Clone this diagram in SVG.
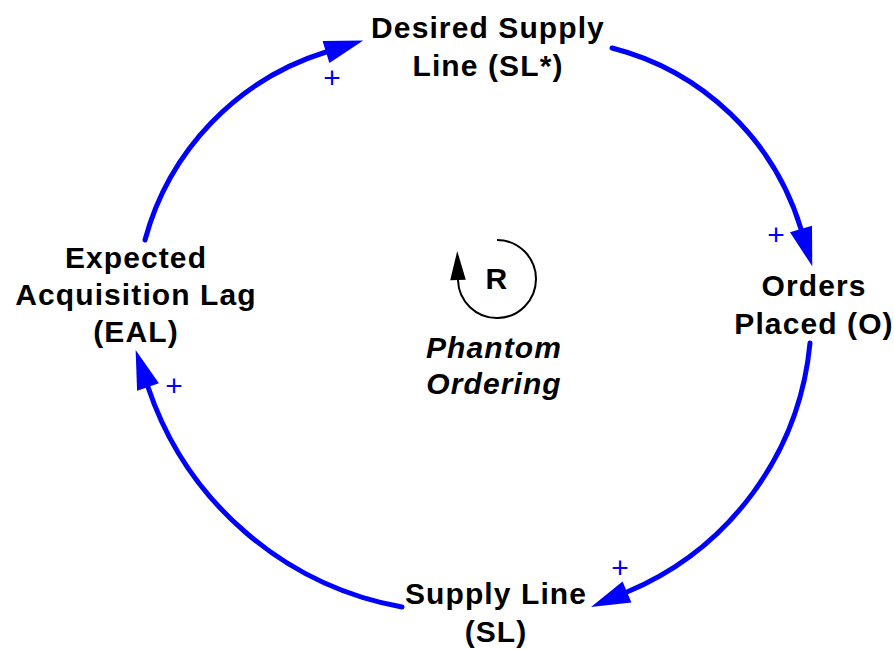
<svg xmlns="http://www.w3.org/2000/svg" width="894" height="649" viewBox="0 0 894 649">
<style>
.lbl{font-family:"Liberation Sans",Arial,sans-serif;font-weight:bold;font-size:30px;letter-spacing:1.1px;fill:#000;text-anchor:middle}
.it{font-style:italic}
.pol{font-family:"Liberation Sans",Arial,sans-serif;font-size:30px;fill:#0000FF;text-anchor:middle}
.link{fill:none;stroke:#0000FF;stroke-width:5;stroke-linecap:round}
</style>
<defs>
<marker id="ah" markerUnits="userSpaceOnUse" markerWidth="42" markerHeight="26" viewBox="0 -13 42 26" refX="0" refY="0" orient="auto" overflow="visible">
<path d="M0,-11.5 L39,0 L0,11.5 z" fill="#0000FF"/>
</marker>
<marker id="ahk" markerUnits="userSpaceOnUse" markerWidth="30" markerHeight="18" viewBox="0 -9 30 18" refX="0" refY="0" orient="auto" overflow="visible">
<path d="M0,-7.8 L29,0 L0,7.8 z" fill="#000"/>
</marker>
</defs>
<g id="connectors">
<path class="link" d="M145,240 A270,270 0 0 1 326,52" marker-end="url(#ah)"/>
<path class="link" d="M612,48 A266,266 0 0 1 801,229" marker-end="url(#ah)"/>
<path class="link" d="M810,343 A300,300 0 0 1 627,592" marker-end="url(#ah)"/>
<path class="link" d="M402,607 A330,330 0 0 1 148,387" marker-end="url(#ah)"/>
<text class="pol" x="332" y="88">+</text>
<text class="pol" x="776" y="245">+</text>
<text class="pol" x="620" y="578">+</text>
<text class="pol" x="174" y="396">+</text>
</g>
<g id="node-dsl">
<text class="lbl" x="488" y="38">Desired Supply</text>
<text class="lbl" x="488" y="76">Line (SL*)</text>
</g>
<g id="node-orders">
<text class="lbl" x="814" y="296">Orders</text>
<text class="lbl" x="814" y="334">Placed (O)</text>
</g>
<g id="node-sl">
<text class="lbl" x="496" y="604">Supply Line</text>
<text class="lbl" x="496" y="642">(SL)</text>
</g>
<g id="node-eal">
<text class="lbl" x="136" y="268">Expected</text>
<text class="lbl" x="136" y="305">Acquisition Lag</text>
<text class="lbl" x="136" y="342">(EAL)</text>
</g>
<g id="loop">
<path d="M497,240 A39,39 0 1 1 458,280" fill="none" stroke="#000" stroke-width="2" marker-end="url(#ahk)"/>
<text class="lbl" x="497" y="289">R</text>
<text class="lbl it" x="494" y="358">Phantom</text>
<text class="lbl it" x="494" y="394">Ordering</text>
</g>
</svg>
